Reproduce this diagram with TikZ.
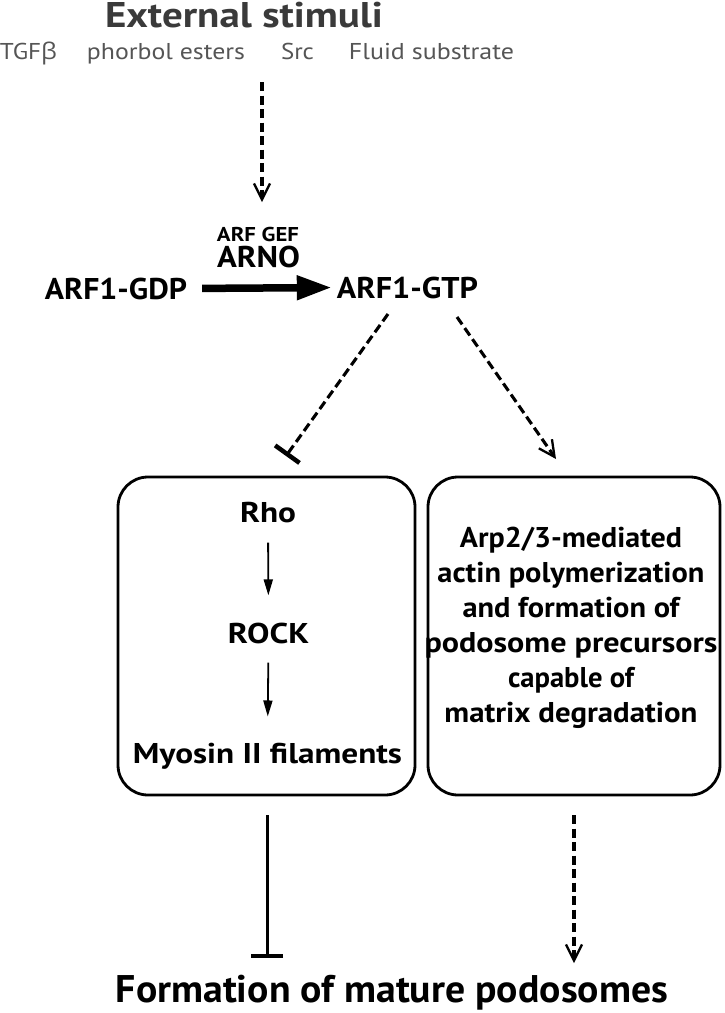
\documentclass[tikz,border=0pt]{standalone}
\usepackage{fontspec}
\usepackage{graphicx}
\setmainfont{PT Sans}
\newfontfamily\grk{Open Sans}
\usetikzlibrary{arrows.meta}
\definecolor{titlegray}{RGB}{58,58,58}
\definecolor{subgray}{RGB}{85,85,85}
% fit text to a given width at a given font size (horizontal scaling only)
\newcommand\fitt[3]{\resizebox{#1}{\height}{\fontsize{#2}{#2}\selectfont #3}}
\begin{document}
\begin{tikzpicture}[x=1pt,y=-1pt,
  txt/.style={inner sep=0pt, anchor=base, font=\bfseries},
  dashln/.style={line width=3.1pt, dash pattern=on 9pt off 4.5pt},
  openhead/.style={-{Straight Barb[length=16pt,width=16pt,line width=2.3pt]}},
  inh/.style={-{Bar[width=#1,line width=4.5pt]}},
  boxstyle/.style={draw, line width=2.8pt, rounded corners=30pt, minimum width=#1, minimum height=318pt, inner sep=0pt},
  thin/.style={line width=1.8pt, -{Triangle[length=16pt,width=9pt]}}
]
\useasboundingbox (0,0) rectangle (725,1013);

% title and stimuli
\node[txt, text=titlegray] (ext) at (244,27) {\fitt{278pt}{35.7}{External stimuli}};
\begin{scope}[every node/.style={inner sep=0pt, anchor=base, text=subgray}]
\node (tgf) at (28.5,59) {\fitt{57pt}{22.9}{TGF{\grk β}}};
\node (pho) at (166,59) {\fitt{158pt}{22.9}{phorbol esters}};
\node (src) at (297.5,59) {\fitt{33pt}{22.9}{Src}};
\node (fluid) at (431.5,59) {\fitt{165pt}{22.9}{Fluid substrate}};
\end{scope}
\coordinate (s1) at (262,82);
\coordinate (s2) at (262,202);
\draw[dashln, openhead] (s1) -- (s2);

% ARNO
\node[txt] (gef) at (258,241) {\fitt{82pt}{20}{ARF GEF}};
\node[txt] (arno) at (258.5,267) {\fitt{83pt}{30}{ARNO}};
\node[txt] (gdp) at (116,299) {\fitt{142pt}{30}{ARF1-GDP}};
\node[txt] (gtp) at (407.5,298) {\fitt{141pt}{30}{ARF1-GTP}};
\draw[line width=7.5pt, -{Triangle[length=35pt,width=23pt]}, shorten <=15pt, shorten >=5pt] (gdp.east) -- (gtp.west);

% branches
\coordinate (i1s) at (388,314);
\coordinate (i1e) at (286,456);
\draw[dashln, inh=30pt] (i1s) -- (i1e);
\coordinate (a1s) at (457,317);
\coordinate (a1e) at (556,459);
\draw[dashln, openhead] (a1s) -- (a1e);

% boxes
\node[boxstyle=297pt] (lbox) at (266.5,636) {};
\node[boxstyle=292pt] (rbox) at (574,636) {};

\node[txt] (rho) at (268,522) {\fitt{56pt}{28.6}{Rho}};
\node[txt] (rock) at (268.5,643) {\fitt{81pt}{28.6}{ROCK}};
\node[txt] (myo) at (267.5,763) {\fitt{269pt}{28.6}{Myosin II filaments}};
\draw[thin, shorten <=20pt, shorten >=27pt] (rho.south) -- (rock.north);
\draw[thin, shorten <=19pt, shorten >=26pt] (rock.south) -- (myo.north);

\node[inner sep=0pt, align=center, font=\bfseries\fontsize{28.6}{35}\selectfont] (arp) at (571,628)
  {\fitt{222pt}{28.6}{Arp2/3-mediated}\\
   \fitt{267pt}{28.6}{actin polymerization}\\
   \fitt{217pt}{28.6}{and formation of}\\
   \fitt{293pt}{28.6}{podosome precursors}\\
   \fitt{126pt}{28.6}{capable of}\\
   \fitt{253pt}{28.6}{matrix degradation}};

% bottom
\node[txt] (form) at (392,1002) {\fitt{552pt}{38.5}{Formation of mature podosomes}};
\coordinate (b1s) at (267,815);
\coordinate (b1e) at (267,958);
\draw[line width=3pt, inh=32pt] (b1s) -- (b1e);
\coordinate (b2s) at (574,815);
\coordinate (b2e) at (574,963);
\draw[dashln, openhead] (b2s) -- (b2e);
\end{tikzpicture}
\end{document}
